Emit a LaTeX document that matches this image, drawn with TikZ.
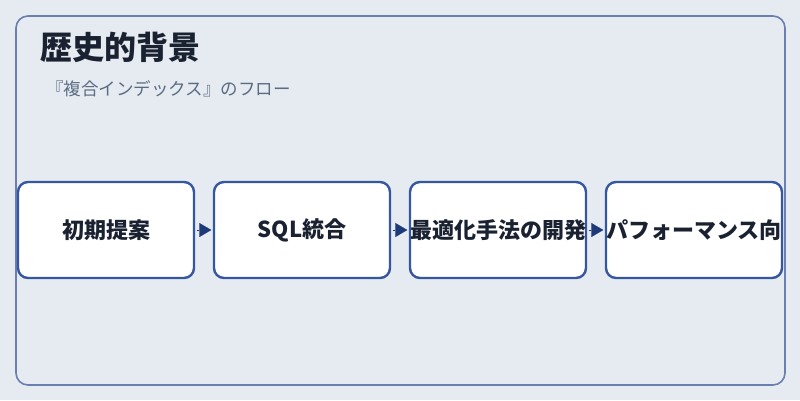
\documentclass[tikz,border=0pt]{standalone}
\usepackage{fontspec}
\newfontfamily\jp{Noto Sans CJK JP}
\usetikzlibrary{arrows.meta}
\definecolor{pagebg}{HTML}{E6EBF1}
\definecolor{panelline}{HTML}{6A7FAF}
\definecolor{boxline}{HTML}{3557A0}
\definecolor{tipcol}{HTML}{1E3A78}
\definecolor{inkcol}{HTML}{1A2232}
\definecolor{subcol}{HTML}{5B6B82}
\tikzset{
  stagebox/.style={draw=boxline, line width=2.4pt, fill=white, rounded corners=10pt,
    minimum width=176pt, minimum height=96pt, inner sep=0pt,
    font=\jp\fontsize{22}{22}\selectfont\bfseries, text=inkcol},
  flow/.style={draw=tipcol, line width=0.1pt, -{Triangle[length=12pt,width=14pt,fill=tipcol]},
    shorten <=1.5pt, shorten >=1.5pt}
}
\begin{document}
\begin{tikzpicture}[x=1pt,y=-1pt]
	\fill[pagebg] (0,0) rectangle (800,400) ;
	\useasboundingbox (0,0) rectangle (800,400) ;
	\draw[panelline, line width=1.6pt, fill=pagebg, rounded corners=12pt] (16,16) rectangle (785,385) ;
	\node (title)[anchor=west, inner sep=0pt, text=inkcol, font=\jp\fontsize{32}{32}\selectfont\bfseries] at (40,47) {歴史的背景} ;
	\node (sub)[anchor=west, inner sep=0pt, text=subcol, font=\jp\fontsize{17.5}{17.5}\selectfont] at (46,89) {『複合インデックス』のフロー} ;
        \node[stagebox] (s1) at (106,230) {初期提案} ;
        \node[stagebox] (s2) at (302,230) {SQL統合} ;
        \node[stagebox] (s3) at (498,230) {最適化手法の開発} ;
        \node[stagebox] (s4) at (694,230) {パフォーマンス向} ;
	\draw[flow] (s1) -- (s2) ;
	\draw[flow] (s2) -- (s3) ;
	\draw[flow] (s3) -- (s4) ;
\end{tikzpicture}
\end{document}
